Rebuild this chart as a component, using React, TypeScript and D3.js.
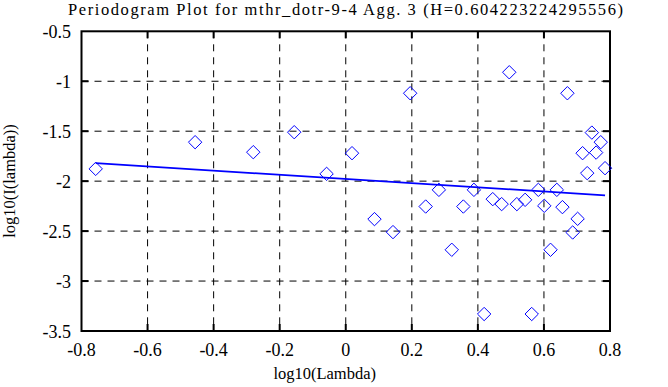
import React from "react";
import * as d3 from "d3";

const lambdaLog = [-0.757, -0.456, -0.28, -0.156, -0.058, 0.019, 0.087, 0.143, 0.195, 0.242, 0.282, 0.321, 0.356, 0.388, 0.419, 0.445, 0.472, 0.495, 0.518, 0.543, 0.563, 0.583, 0.601, 0.62, 0.639, 0.656, 0.671, 0.687, 0.702, 0.717, 0.731, 0.745, 0.758, 0.772, 0.785];
const powerLog = [-1.877, -1.61, -1.71, -1.51, -1.927, -1.72, -2.38, -2.51, -1.12, -2.254, -2.087, -2.687, -2.254, -2.087, -3.33, -2.18, -2.23, -0.91, -2.23, -2.187, -3.33, -2.087, -2.247, -2.687, -2.087, -2.26, -1.12, -2.514, -2.377, -1.72, -1.92, -1.514, -1.714, -1.61, -1.87];
const fitSlope = -0.208446;
const fitIntercept = -1.978;
const xTicks = [-0.8, -0.6, -0.4, -0.2, 0, 0.2, 0.4, 0.6, 0.8];
const xTickLabels = ["-0.8", "-0.6", "-0.4", "-0.2", "0", "0.2", "0.4", "0.6", "0.8"];
const yTicks = [-3.5, -3, -2.5, -2, -1.5, -1, -0.5];
const yTickLabels = ["-3.5", "-3", "-2.5", "-2", "-1.5", "-1", "-0.5"];
const titleText = "Periodogram Plot for mthr_dotr-9-4 Agg. 3 (H=0.604223224295556)";
const xLabel = "log10(Lambda)";
const yLabel = "log10(I(lambda))";

const W = 668, H = 387;
const L = 81.5, R = 610, T = 31.3, B = 331;
const FONT = "'Liberation Serif', 'Times New Roman', serif";

export default function App() {
  const x = d3.scaleLinear().domain([-0.8, 0.8]).range([L, R]);
  const y = d3.scaleLinear().domain([-3.5, -0.5]).range([B, T]);
  const pts = lambdaLog.map((v, i) => [v, powerLog[i]] as [number, number]);
  const fitX = [lambdaLog[0], lambdaLog[lambdaLog.length - 1]];
  const line = d3.line<number>().x((d) => x(d)).y((d) => y(fitIntercept + fitSlope * d));
  const s = 6.7;
  const diamond = (cx: number, cy: number) =>
    `M${cx},${cy - s}L${cx + s},${cy}L${cx},${cy + s}L${cx - s},${cy}Z`;
  const innerX = xTicks.slice(1, -1);
  const innerY = yTicks.slice(1, -1);
  return (
    <svg width={W} height={H} style={{ position: "absolute", left: 0, top: 0, background: "#fff" }} fontFamily={FONT}>
      <rect x={0} y={0} width={W} height={H} fill="#fff" />
      <text x={68} y={14.8} fontSize={16.5} textLength={555} lengthAdjust="spacing">{titleText}</text>
      {innerX.map((t) => (
        <line key={"gx" + t} x1={x(t)} x2={x(t)} y1={T} y2={B} stroke="#000" strokeWidth={1} strokeDasharray="7,6" />
      ))}
      {innerY.map((t) => (
        <line key={"gy" + t} x1={L} x2={R} y1={y(t)} y2={y(t)} stroke="#000" strokeWidth={1} strokeDasharray="7,6" />
      ))}
      {innerX.map((t) => (
        <g key={"tx" + t}>
          <line x1={x(t)} x2={x(t)} y1={B} y2={B - 7} stroke="#000" strokeWidth={2} />
          <line x1={x(t)} x2={x(t)} y1={T} y2={T + 7} stroke="#000" strokeWidth={2} />
        </g>
      ))}
      {innerY.map((t) => (
        <g key={"ty" + t}>
          <line x1={L} x2={L + 7} y1={y(t)} y2={y(t)} stroke="#000" strokeWidth={2} />
          <line x1={R} x2={R - 7} y1={y(t)} y2={y(t)} stroke="#000" strokeWidth={2} />
        </g>
      ))}
      <rect x={L} y={T} width={R - L} height={B - T} fill="none" stroke="#000" strokeWidth={2} />
      {pts.map(([a, b], i) => (
        <path key={"p" + i} d={diamond(x(a), y(b))} fill="none" stroke="#0000ff" strokeWidth={1} />
      ))}
      <path d={line(fitX) || ""} fill="none" stroke="#0000ff" strokeWidth={1.8} />
      {xTicks.map((t, i) => (
        <text key={"xl" + t} x={x(t)} y={356} fontSize={18} textAnchor="middle">{xTickLabels[i]}</text>
      ))}
      {yTicks.map((t, i) => (
        <text key={"yl" + t} x={71} y={y(t) + 6.8} fontSize={18} textAnchor="end">{yTickLabels[i]}</text>
      ))}
      <text x={324.7} y={378.5} fontSize={16.5} textAnchor="middle">{xLabel}</text>
      <text transform={`translate(15,181) rotate(-90)`} fontSize={16.5} textAnchor="middle">{yLabel}</text>
    </svg>
  );
}
